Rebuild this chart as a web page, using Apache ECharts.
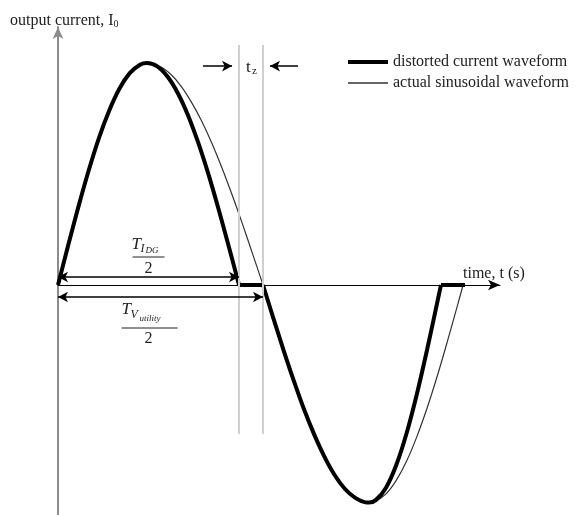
<!DOCTYPE html>
<html>
<head>
<meta charset="utf-8">
<script src="https://cdn.jsdelivr.net/npm/echarts@6/dist/echarts.min.js"></script>
<style>
  html, body { margin: 0; padding: 0; background: #fff; }
  #chart { width: 576px; height: 515px; }
</style>
</head>
<body>
<div id="chart"></div>
<script>
// Output current of the DG inverter vs. time (t in ms, current in p.u.)
// Distorted waveform: positive and negative half-waves, with zero-current gaps between them
const distortedPosT = [0, 0.5, 1, 1.5, 2, 2.5, 3, 3.5, 4, 4.34,
  4.84, 5.34, 5.84, 6.34, 6.84, 7.34, 7.84, 8.34, 8.83];
const distortedPosI = [0, 0.18, 0.354, 0.517, 0.663, 0.786, 0.885, 0.954, 0.992, 1,
  0.985, 0.939, 0.865, 0.765, 0.641, 0.498, 0.339, 0.17, 0];
const distortedNegT = [10, 10.5, 11, 11.5, 12, 12.5, 13, 13.5, 14, 14.5, 15, 15.17,
  15.5, 16, 16.5, 17, 17.5, 18, 18.68];
const distortedNegI = [0, -0.148, -0.293, -0.431, -0.56, -0.674, -0.774, -0.857, -0.919, -0.959, -0.979, -0.98,
  -0.969, -0.913, -0.811, -0.669, -0.493, -0.293, 0];
// zero-current intervals (t_z)
const gapStartT = [8.83, 18.68];
const gapEndT = [10, 19.85];

// Actual sinusoidal waveform
const sineT = [0, 0.5, 1, 1.5, 2, 2.5, 3, 3.5, 4, 4.34,
  5, 5.5, 6, 6.5, 7, 7.5, 8, 8.5, 9, 9.5, 10,
  10.5, 11, 11.5, 12, 12.5, 13, 13.5, 14, 14.5, 15, 15.17,
  15.5, 16, 16.5, 17, 17.5, 18, 18.5, 19, 19.5, 19.76];
const sineI = [0, 0.18, 0.354, 0.517, 0.663, 0.786, 0.885, 0.954, 0.992, 1,
  0.983, 0.949, 0.896, 0.825, 0.74, 0.64, 0.527, 0.404, 0.274, 0.138, 0,
  -0.148, -0.293, -0.431, -0.56, -0.674, -0.774, -0.857, -0.919, -0.959, -0.979, -0.98,
  -0.974, -0.941, -0.88, -0.794, -0.684, -0.555, -0.41, -0.252, -0.087, 0];

// Half periods
const halfPeriodIDG = 8.83;
const halfPeriodVutility = 10;

const seriesNames = ['distorted current waveform', 'actual sinusoidal waveform'];
const xAxisName = 'time, t (s)';

const zip = (xs, ys) => xs.map((x, k) => [x, ys[k]]);
const serif = 'Liberation Serif';

// half-waves as separate smooth segments, broken by an empty point
const distortedCurve = zip(distortedPosT, distortedPosI)
  .concat([[(distortedPosT[distortedPosT.length - 1] + distortedNegT[0]) / 2, null]])
  .concat(zip(distortedNegT, distortedNegI));
const gapLines = [];
gapStartT.forEach((t0, k) => {
  if (k > 0) gapLines.push([(gapEndT[k - 1] + t0) / 2, null]);
  gapLines.push([t0, 0], [gapEndT[k], 0]);
});

const chart = echarts.init(document.getElementById('chart'), null, { renderer: 'canvas' });

const markerLevel = 0.986;    // height of the t_z arrows
const upperDimLevel = 0.036;  // T_IDG / 2 dimension line
const lowerDimLevel = -0.054; // T_Vutility / 2 dimension line

const thickStyle = { color: '#000', width: 4, join: 'round', cap: 'butt' };

chart.setOption({
  animation: false,
  backgroundColor: '#fff',
  textStyle: { fontFamily: serif },
  grid: { left: 58, right: 76, top: 27, bottom: 0, outerBoundsMode: 'none' },
  legend: {
    left: 343, top: 49, orient: 'vertical',
    itemWidth: 40, itemHeight: 14, itemGap: 5,
    selectedMode: false, symbolKeepAspect: true,
    textStyle: { fontFamily: serif, fontSize: 16, color: '#222' },
    data: [
      { name: seriesNames[0], icon: 'path://M0,0L40,0L40,4L0,4Z' },
      { name: seriesNames[1], icon: 'path://M0,0L40,0L40,1.5L0,1.5Z' }
    ]
  },
  xAxis: {
    type: 'value', min: 0, max: 21.56,
    name: xAxisName, nameLocation: 'end', nameGap: -37,
    nameTextStyle: { fontFamily: serif, fontSize: 16, color: '#222', align: 'left', verticalAlign: 'bottom', padding: [0, 0, 3, 0] },
    axisLine: { lineStyle: { color: '#000', width: 1 }, symbol: ['none', 'arrow'], symbolSize: [8, 12] },
    axisTick: { show: false }, axisLabel: { show: false }, splitLine: { show: false }
  },
  yAxis: {
    type: 'value', min: -1.036, max: 1.162,
    name: 'output current, I{sub|0}', nameLocation: 'end', nameGap: -2,
    nameTextStyle: {
      fontFamily: serif, fontSize: 16, color: '#222', align: 'left', padding: [0, 0, 0, -48],
      rich: { sub: { fontFamily: serif, fontSize: 10, color: '#222', padding: [6, 0, 0, 0] } }
    },
    axisLine: { lineStyle: { color: '#8c8c8c', width: 2 }, symbol: ['none', 'arrow'], symbolSize: [8, 12] },
    axisTick: { show: false }, axisLabel: { show: false }, splitLine: { show: false }
  },
  series: [
    {
      name: seriesNames[1], type: 'line', data: zip(sineT, sineI),
      showSymbol: false, symbol: 'none', smooth: 0.35, z: 2,
      lineStyle: { color: '#333', width: 1.2 }, itemStyle: { color: '#333' },
      emphasis: { disabled: true },
      markLine: {
        silent: true, symbol: 'none', label: { show: false }, emphasis: { disabled: true },
        lineStyle: { color: '#cfcfcf', width: 2, type: 'solid' },
        data: [
          [{ coord: [halfPeriodIDG, 1.081] }, { coord: [halfPeriodIDG, -0.671] }],
          [{ coord: [halfPeriodVutility, 1.081] }, { coord: [halfPeriodVutility, -0.671] }]
        ]
      }
    },
    {
      name: seriesNames[0], type: 'line', data: gapLines,
      showSymbol: false, symbol: 'none', connectNulls: false, z: 3,
      lineStyle: thickStyle, itemStyle: { color: '#000' },
      emphasis: { disabled: true }
    },
    {
      name: seriesNames[0], type: 'line', data: distortedCurve,
      showSymbol: false, symbol: 'none', smooth: 0.35, connectNulls: false, z: 3,
      lineStyle: thickStyle, itemStyle: { color: '#000' },
      emphasis: { disabled: true },
      markLine: {
        silent: true, label: { show: false }, emphasis: { disabled: true },
        symbolSize: [8, 10],
        lineStyle: { color: '#000', width: 1.5, type: 'solid' },
        data: [
          // t_z pointer arrows
          [{ coord: [7.07, markerLevel], symbol: 'none' }, { coord: [8.49, markerLevel], symbol: 'arrow' }],
          [{ coord: [11.71, markerLevel], symbol: 'none' }, { coord: [10.34, markerLevel], symbol: 'arrow' }],
          // half-period dimension lines
          [{ coord: [0, upperDimLevel], symbol: 'arrow' }, { coord: [halfPeriodIDG, upperDimLevel], symbol: 'arrow' }],
          [{ coord: [0, lowerDimLevel], symbol: 'arrow' }, { coord: [halfPeriodVutility, lowerDimLevel], symbol: 'arrow' }]
        ]
      }
    }
  ]
});

// Text annotations anchored to the axis scales
function placeAnnotations() {
  const px = (t, i) => chart.convertToPixel({ gridIndex: 0 }, [t, i]);
  const up = px(halfPeriodIDG / 2, upperDimLevel);
  const lo = px(halfPeriodIDG / 2, lowerDimLevel);
  const tz = px((halfPeriodIDG + halfPeriodVutility) / 2, markerLevel);
  const txt = (x, y, s, size, italic, align) => ({
    type: 'text', x, y, silent: true,
    style: { text: s, fontFamily: serif, fontSize: size, fontStyle: italic ? 'italic' : 'normal',
      fill: '#222', align: align || 'left', verticalAlign: 'middle' }
  });
  const bar = (x1, x2, y) => ({
    type: 'line', silent: true, shape: { x1, y1: y, x2, y2: y },
    style: { stroke: '#222', lineWidth: 1.2 }
  });
  const cx = up[0];
  chart.setOption({
    graphic: [
      // T_IDG / 2
      txt(cx - 17, up[1] - 32, 'T', 17, true),
      txt(cx - 8, up[1] - 28, 'I', 12, true),
      txt(cx - 3, up[1] - 26, 'DG', 9, true),
      bar(cx - 16, cx + 16, up[1] - 20),
      txt(cx, up[1] - 8, '2', 16, false, 'center'),
      // T_Vutility / 2
      txt(cx - 27, lo[1] + 13, 'T', 17, true),
      txt(cx - 18, lo[1] + 18, 'V', 12, true),
      txt(cx - 9, lo[1] + 22, 'utility', 9, true),
      bar(cx - 27, cx + 29, lo[1] + 31),
      txt(cx, lo[1] + 42, '2', 16, false, 'center'),
      // t_z
      txt(tz[0] - 5, tz[1] + 1, 't', 17, false),
      txt(tz[0] + 1, tz[1] + 5, 'z', 11, false)
    ]
  });
}
placeAnnotations();
</script>
</body>
</html>
